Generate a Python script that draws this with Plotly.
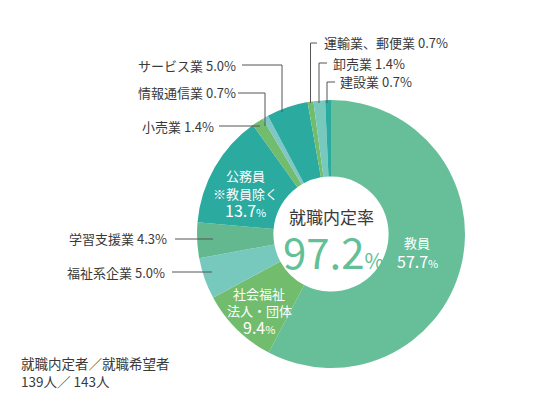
import plotly.graph_objects as go

W, H = 548, 410

labels = ['教員', '社会福祉法人・団体', '福祉系企業', '学習支援業', '公務員',
          '小売業', '情報通信業', 'サービス業', '運輸業、郵便業', '卸売業', '建設業']
values = [57.7, 9.4, 5.0, 4.3, 13.7, 1.4, 0.7, 5.0, 0.7, 1.4, 0.7]
colors = ['#67bf9a', '#72bc6e', '#78c9bd', '#63b890', '#2baa9f',
          '#72bc6e', '#7fc7c6', '#2baa9f', '#72bc6e', '#78c9bd', '#2baa9f']

rate = '97.2'
hired, hopeful = 139, 143

FONT = 'Noto Sans CJK JP'
TXT = '#3a3a3a'


def px(x):
    return x / W


def py(y):
    return 1 - y / H


fig = go.Figure(go.Pie(
    labels=labels,
    values=values,
    sort=False,
    direction='clockwise',
    hole=0.43,
    textinfo='none',
    marker=dict(colors=colors, line=dict(width=0)),
    domain=dict(x=[px(197), px(465)], y=[py(368), py(100)]),
    showlegend=False,
))

val = dict(zip(labels, values))
ann = []


def label(x, y, text, size, color, anchor='center'):
    ann.append(dict(x=px(x), y=py(y), xref='paper', yref='paper', showarrow=False,
                    xanchor=anchor, yanchor='middle', text=text, borderpad=0,
                    font=dict(family=FONT, size=size, color=color)))


# outside labels: (name, text x, text y, anchor, leader path in pixels)
outside = [
    ('運輸業、郵便業', 323, 43, 'left', [(317, 43), (310.5, 43), (310.5, 103)]),
    ('卸売業', 332, 63, 'left', [(327, 63), (319, 63), (319, 103)]),
    ('建設業', 339, 82, 'left', [(335, 82), (327, 82), (327, 103)]),
    ('サービス業', 237, 65, 'right', [(242, 65), (282, 65), (282, 112)]),
    ('情報通信業', 237, 93, 'right', [(238, 93), (265, 93), (265, 126)]),
    ('小売業', 215, 126, 'right', [(219, 126), (260, 126)]),
    ('学習支援業', 168, 239, 'right', [(175, 239), (213, 239)]),
    ('福祉系企業', 166, 272, 'right', [(172, 272), (212, 272)]),
]
shapes = []
for name, x, y, anchor, pts in outside:
    label(x, y, f'{name} {val[name]:.1f}%', 13, TXT, anchor)
    path = 'M ' + ' L '.join(f'{px(a)},{py(b)}' for a, b in pts)
    shapes.append(dict(type='path', xref='paper', yref='paper', path=path,
                       line=dict(color='#555555', width=1)))

pct = "<span style='font-size:11px'>%</span>"
inside = [
    ('教員', 417, [(242.5, '教員')], 260.5),
    ('公務員', 245, [(176, '公務員'), (193, '※教員除く')], 210),
    ('社会福祉法人・団体', 259, [(293, '社会福祉'), (310, '法人・団体')], 327),
]
for name, x, lines, ny in inside:
    for ly, t in lines:
        label(x, ly, t, 13, 'white')
    label(x, ny, f'{val[name]}{pct}', 16, 'white')

# centre
label(331, 216, '就職内定率', 17, TXT)
label(333, 250, f"{rate}<span style='font-size:21px'>%</span>", 42, '#62bf96')

# note
label(20, 363, '就職内定者／就職希望者', 13.5, TXT, 'left')
label(20, 381, f'{hired}人／ {hopeful}人', 13.5, TXT, 'left')

fig.update_layout(
    width=W,
    height=H,
    margin=dict(l=0, r=0, t=0, b=0),
    paper_bgcolor='white',
    plot_bgcolor='white',
    annotations=ann,
    shapes=shapes,
)

fig.write_html('out.html', config={'displayModeBar': False},
               post_script="document.body.style.margin='0';")
